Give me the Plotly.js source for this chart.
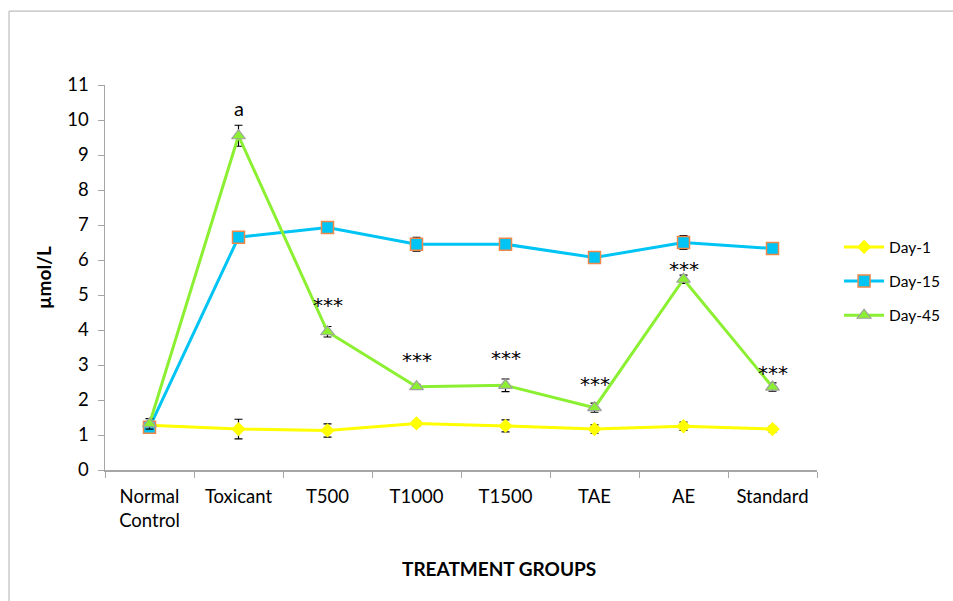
<!DOCTYPE html>
<html>
<head>
<meta charset="utf-8">
<script src="https://cdn.plot.ly/plotly-3.0.1.min.js"></script>
<style>
  html, body { margin: 0; padding: 0; background: #ffffff; }
  #chart { width: 953px; height: 601px; }
</style>
</head>
<body>
<div id="chart"></div>
<script>
// Treatment groups on the x axis
const groups = ['Normal<br>Control', 'Toxicant', 'T500', 'T1000', 'T1500', 'TAE', 'AE', 'Standard'];

// Mean values (µmol/L) and their error margins for each sampling day
const day1 = [1.28, 1.17, 1.13, 1.33, 1.26, 1.17, 1.25, 1.17];
const day1Err = [0.08, 0.28, 0.19, 0.08, 0.17, 0.12, 0.12, 0.08];

const day15 = [1.22, 6.65, 6.93, 6.45, 6.45, 6.07, 6.50, 6.33];
const day15Err = [0.05, 0.10, 0.15, 0.20, 0.05, 0.05, 0.20, 0.05];

const day45 = [1.32, 9.55, 3.95, 2.38, 2.42, 1.78, 5.45, 2.37];
const day45Err = [0.15, 0.30, 0.15, 0.07, 0.18, 0.13, 0.12, 0.12];

// Significance marks placed above the Day-45 points
const markText = ['', 'a', '***', '***', '***', '***', '***', '***'];
const markY = [null, 10.35, 4.72, 3.14, 3.2, 2.47, 5.74, 2.76];

const FONT = 'Lato, "Open Sans", sans-serif';
const STAR_FONT = '"DejaVu Sans", sans-serif';

function errs(arr) {
  return { type: 'data', array: arr, visible: true, color: '#000000', thickness: 1.2, width: 4 };
}

const traces = [
  {
    name: 'Day-1', x: groups, y: day1, error_y: errs(day1Err),
    mode: 'lines+markers', legendgroup: 'g1',
    line: { color: '#FFFF00', width: 3 },
    marker: { symbol: 'diamond', size: 11, color: '#FFFF00', line: { color: '#FFFF00', width: 0 } }
  },
  {
    name: 'Day-15', x: groups, y: day15, error_y: errs(day15Err),
    mode: 'lines+markers', legendgroup: 'g2',
    line: { color: '#00C4F4', width: 3 },
    marker: { symbol: 'square', size: 12, color: '#00C4F4', line: { color: '#F0884A', width: 1.5 } }
  },
  {
    name: 'Day-45', x: groups, y: day45, error_y: errs(day45Err),
    mode: 'lines+markers', legendgroup: 'g3',
    line: { color: '#8CF032', width: 3 },
    marker: { symbol: 'triangle-up', size: 12, color: '#8CF032', line: { color: '#A0A0A0', width: 1.2 } }
  }
];

const annotations = [];
groups.forEach((g, i) => {
  if (markText[i]) {
    const isLetter = markText[i] === 'a';
    annotations.push({
      x: g, y: markY[i], xref: 'x', yref: 'y', text: markText[i],
      showarrow: false,
      font: { family: isLetter ? FONT : STAR_FONT, size: 20, color: '#000000' }
    });
  }
});
annotations.push({
  text: '<b>TREATMENT GROUPS</b>', xref: 'paper', yref: 'paper',
  x: 0.553, y: -0.29, showarrow: false,
  font: { family: FONT, size: 19, color: '#000000' }
});

const layout = {
  width: 953, height: 601,
  paper_bgcolor: '#ffffff', plot_bgcolor: '#ffffff',
  margin: { l: 105, r: 136, t: 85, b: 131, autoexpand: false },
  font: { family: FONT, size: 18.5, color: '#000000' },
  showlegend: true,
  legend: {
    x: 1.031, xanchor: 'left', y: 0.49, yanchor: 'middle',
    font: { family: FONT, size: 15.5, color: '#000000' },
    traceorder: 'grouped', tracegroupgap: 11, itemwidth: 40,
    bgcolor: 'rgba(0,0,0,0)'
  },
  xaxis: {
    type: 'category', range: [-0.5, 7.5],
    showline: true, linecolor: '#A6A6A6', linewidth: 1.5,
    ticks: 'outside', tickson: 'boundaries', ticklen: 6, tickcolor: '#A6A6A6',
    ticklabelstandoff: 9,
    showgrid: false, zeroline: false,
    tickfont: { family: FONT, size: 18.5, color: '#000000' }
  },
  yaxis: {
    range: [0, 11], dtick: 1,
    showline: true, linecolor: '#A6A6A6', linewidth: 1.5,
    ticks: 'outside', ticklen: 6, tickcolor: '#A6A6A6',
    ticklabelstandoff: 5,
    showgrid: false, zeroline: false,
    tickfont: { family: FONT, size: 18.5, color: '#000000' },
    title: { text: '<b>µmol/L</b>', font: { family: FONT, size: 19, color: '#000000' }, standoff: 10 }
  },
  annotations: annotations,
  shapes: [
    // outer frame around the figure (top and left edges)
    { type: 'line', xref: 'paper', yref: 'paper', x0: -0.1348, x1: 1.3, y0: 1.192, y1: 1.192,
      line: { color: '#BDBDBD', width: 1.2 } },
    { type: 'line', xref: 'paper', yref: 'paper', x0: -0.1348, x1: -0.1348, y0: 1.192, y1: -0.4,
      line: { color: '#BDBDBD', width: 1.2 } }
  ]
};

Plotly.newPlot('chart', traces, layout, { displayModeBar: false, staticPlot: true });
</script>
</body>
</html>
